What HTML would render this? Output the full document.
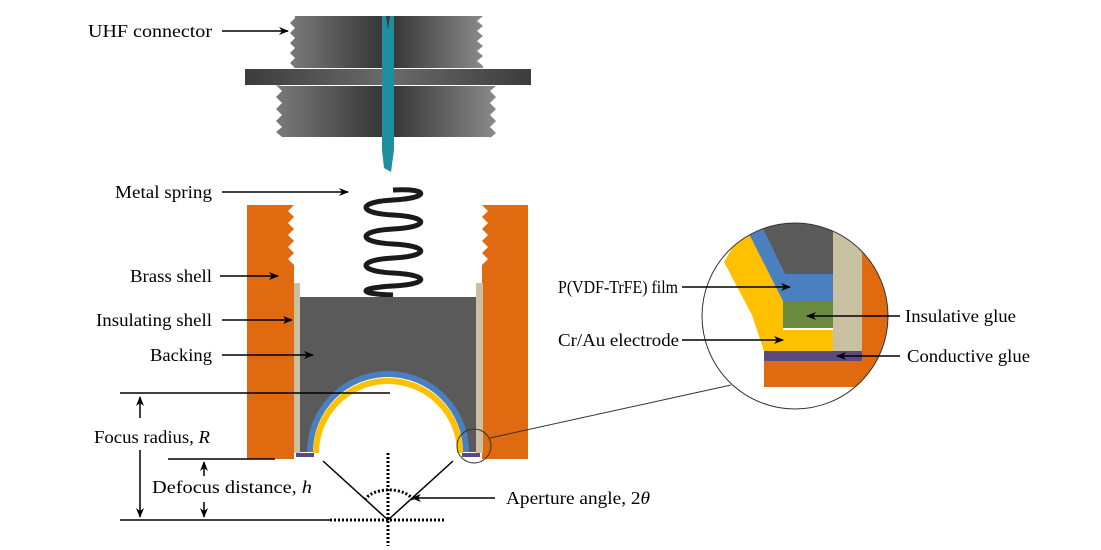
<!DOCTYPE html>
<html><head><meta charset="utf-8"><style>
html,body{margin:0;padding:0;background:#fff}
svg{display:block}
text{font-family:"Liberation Serif",serif;font-size:17.5px;fill:#000}
</style></head><body>
<svg width="1101" height="550" viewBox="0 0 1101 550">
<defs>
<linearGradient id="g1" x1="0" x2="1"><stop offset="0" stop-color="#7a7a7a"/><stop offset="0.45" stop-color="#3a3a3a"/><stop offset="0.55" stop-color="#3a3a3a"/><stop offset="1" stop-color="#8a8a8a"/></linearGradient>
<linearGradient id="g2" x1="0" x2="1"><stop offset="0" stop-color="#3c3c3c"/><stop offset="0.5" stop-color="#6a6a6a"/><stop offset="1" stop-color="#3c3c3c"/></linearGradient>
<marker id="ah" markerWidth="10" markerHeight="8" refX="9" refY="4" orient="auto" markerUnits="userSpaceOnUse"><path d="M0,0 L10,4 L0,8 L3,4z" fill="#000"/></marker>
<clipPath id="cc"><circle cx="795" cy="316" r="93"/></clipPath>
</defs>
<g>
<path d="M295,16 H483 l-6,5 6,5 -6,5 6,5 -6,5 6,5 -6,5 6,5 -6,5 6,5 V68 H295 l-5,-5 5,-5 -5,-5 5,-5 -5,-5 5,-5 -5,-5 5,-5 -5,-5 5,-5z" fill="url(#g1)"/>
<path d="M282,86 H496 l-6,5 6,6 -6,6 6,6 -6,6 6,6 -6,6 6,6 -6,5 V137 H282 l-6,-5 6,-5 -6,-6 6,-6 -6,-6 6,-6 -6,-6 6,-6 -6,-6z" fill="url(#g1)"/>
<rect x="245" y="69" width="286" height="16" fill="url(#g2)"/>
<path d="M382,16 H386 L388,30 L390,16 H394 V150 L391,172 L384,168 L382,150z" fill="#1f8fa0"/>
</g>
<path d="M393,190 C430,188 430,198 393,200 C357,202 357,213 393,215 C430,217 430,227 393,229 C357,231 357,242 393,244 C430,246 430,256 393,258 C357,260 357,271 393,273 C430,275 430,284 393,286 C357,288 357,294 393,295" fill="none" stroke="#1a1a1a" stroke-width="5"/>
<g>
<path d="M247,205 H294 l-6,6 6,6 -6,6 6,6 -6,6 6,6 -6,6 6,6 -6,6 6,6 V459 H247z" fill="#e06a10"/>
<path d="M528,205 H482 l6,6 -6,6 6,6 -6,6 6,6 -6,6 6,6 -6,6 6,6 -6,6 V459 H528z" fill="#e06a10"/>
</g>
<rect x="294" y="283" width="6" height="170" fill="#c8c0a0"/>
<rect x="476" y="283" width="7" height="170" fill="#c8c0a0"/>
<path d="M300,297 H476 V452 H465 A76,76 0 0 0 311,452 H300z" fill="#5a5a5a"/>
<path d="M310,452 A77,77 0 0 1 466,452" fill="none" stroke="#4a80c0" stroke-width="6"/>
<path d="M316,453 A72,72 0 0 1 460,453" fill="none" stroke="#ffc000" stroke-width="6"/>
<rect x="296" y="453" width="18" height="4" fill="#5a4a80"/><rect x="462" y="453" width="18" height="4" fill="#5a4a80"/>
<g>
<g clip-path="url(#cc)">
<rect x="700" y="220" width="200" height="200" fill="#fff"/>
<rect x="862" y="220" width="40" height="170" fill="#e06a10"/>
<rect x="764" y="361" width="130" height="26" fill="#e06a10"/>
<path d="M760,222 H833 V274 H783 L760,240z" fill="#5a5a5a"/>
<path d="M745,226 L760,222 L785,274 H833 V301 H783 L770,290 Z" fill="#4a80c0"/>
<path d="M724,262 L745,226 L783,301 V330 H833 V351 H764 L752,315z" fill="#ffc000"/>
<rect x="783" y="301" width="50" height="27" fill="#6a8a40"/>
<rect x="833" y="232" width="29" height="119" fill="#c8c0a0"/>
<rect x="764" y="351" width="98" height="10" fill="#5a4a80"/>
</g>
<circle cx="795" cy="316" r="93" fill="none" stroke="#333" stroke-width="1"/>
<circle cx="474" cy="446" r="17" fill="none" stroke="#333" stroke-width="1"/>
<line x1="490" y1="438" x2="731" y2="385" stroke="#333"/>
</g>
<g stroke="#000" stroke-width="1.5" fill="none">
<line x1="222" y1="31" x2="288" y2="31" marker-end="url(#ah)"/>
<line x1="222" y1="192" x2="348" y2="192" marker-end="url(#ah)"/>
<line x1="220" y1="276" x2="278" y2="276" marker-end="url(#ah)"/>
<line x1="222" y1="320" x2="292" y2="320" marker-end="url(#ah)"/>
<line x1="222" y1="355" x2="313" y2="355" marker-end="url(#ah)"/>
<line x1="120" y1="393" x2="390" y2="393"/>
<line x1="168" y1="459" x2="275" y2="459"/>
<line x1="120" y1="520" x2="330" y2="520"/>
<line x1="140" y1="418" x2="140" y2="397" marker-end="url(#ah)"/>
<line x1="140" y1="450" x2="140" y2="517" marker-end="url(#ah)"/>
<line x1="204" y1="476" x2="204" y2="462" marker-end="url(#ah)"/>
<line x1="204" y1="502" x2="204" y2="517" marker-end="url(#ah)"/>
<line x1="388" y1="520" x2="323" y2="461"/>
<line x1="388" y1="520" x2="453" y2="461"/>
<line x1="495" y1="498" x2="412" y2="498" marker-end="url(#ah)"/>
<line x1="682" y1="287" x2="790" y2="287" marker-end="url(#ah)"/>
<line x1="682" y1="340" x2="783" y2="340" marker-end="url(#ah)"/>
<line x1="900" y1="316" x2="807" y2="316" marker-end="url(#ah)"/>
<line x1="900" y1="356" x2="837" y2="356" marker-end="url(#ah)"/>
</g>
<g stroke="#000" stroke-width="3" stroke-dasharray="2,2" fill="none">
<line x1="388" y1="453" x2="388" y2="546"/>
<line x1="330" y1="520" x2="446" y2="520"/>
<path d="M365,500 A25,14 0 0 1 413,500"/>
</g>
<text x="88" y="37" textLength="124" lengthAdjust="spacingAndGlyphs">UHF  connector</text>
<text x="115" y="198" textLength="97" lengthAdjust="spacingAndGlyphs">Metal spring</text>
<text x="130" y="282" textLength="82" lengthAdjust="spacingAndGlyphs">Brass shell</text>
<text x="96" y="326" textLength="116" lengthAdjust="spacingAndGlyphs">Insulating shell</text>
<text x="150" y="361" textLength="62" lengthAdjust="spacingAndGlyphs">Backing</text>
<text x="94" y="443" textLength="116" lengthAdjust="spacingAndGlyphs">Focus radius, <tspan font-style="italic">R</tspan></text>
<text x="152" y="493" textLength="160" lengthAdjust="spacingAndGlyphs">Defocus  distance, <tspan font-style="italic">h</tspan></text>
<text x="506" y="504" textLength="144" lengthAdjust="spacingAndGlyphs">Aperture angle, 2<tspan font-style="italic">θ</tspan></text>
<text x="558" y="293" textLength="120" lengthAdjust="spacingAndGlyphs">P(VDF-TrFE) film</text>
<text x="558" y="346" textLength="121" lengthAdjust="spacingAndGlyphs">Cr/Au electrode</text>
<text x="905" y="322" textLength="111" lengthAdjust="spacingAndGlyphs">Insulative glue</text>
<text x="907" y="362" textLength="123" lengthAdjust="spacingAndGlyphs">Conductive glue</text>
</svg>
</body></html>
